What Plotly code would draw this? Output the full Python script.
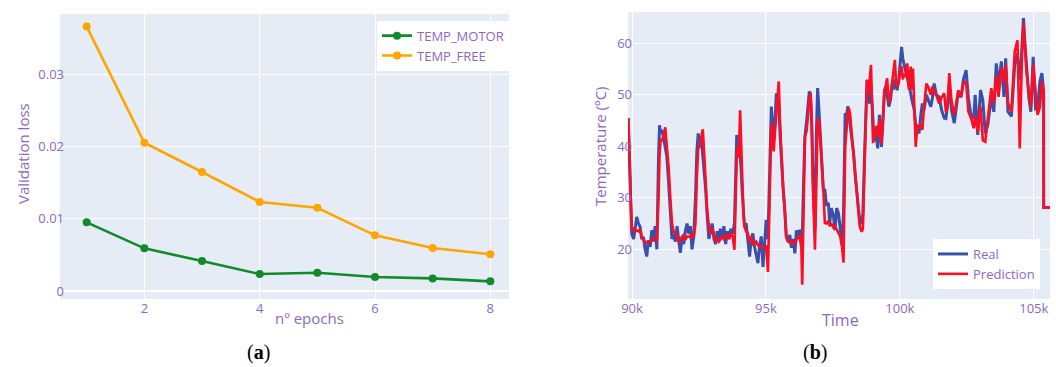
import plotly.graph_objects as go

# ---------------- data: panel (a) ----------------
epochs = [1, 2, 3, 4, 5, 6, 7, 8]
loss_motor = [0.0095, 0.0059, 0.00415, 0.00235, 0.00253, 0.00194, 0.00175, 0.00134]
loss_free = [0.03656, 0.0205, 0.01646, 0.01231, 0.01152, 0.0077, 0.00595, 0.00508]
epoch_ticks = [2, 4, 6, 8]
loss_ticks = [0, 0.01, 0.02, 0.03]
loss_tick_text = ["0", "0.01", "0.02", "0.03"]

# ---------------- data: panel (b) ----------------
time = [
    89860, 89920, 89990, 90060, 90120, 90175, 90240, 90300, 90360, 90425,
    90490, 90551, 90610, 90680, 90740, 90800, 90860, 90928, 90990, 91028,
    91070, 91117, 91180, 91241, 91300, 91366, 91430, 91492, 91550, 91617,
    91680, 91740, 91805, 91870, 91930, 91990, 92055, 92120, 92180, 92240,
    92305, 92369, 92420, 92470, 92520, 92580, 92643, 92700, 92745, 92800,
    92870, 92930, 92990, 93060, 93121, 93180, 93240, 93300, 93370, 93430,
    93497, 93560, 93620, 93690, 93760, 93824, 93870, 93910, 93948, 93990,
    94035, 94070, 94110, 94160, 94199, 94260, 94324, 94390, 94449, 94510,
    94575, 94640, 94700, 94760, 94825, 94890, 94951, 95010, 95076, 95140,
    95201, 95250, 95290, 95340, 95389, 95430, 95478, 95530, 95577, 95640,
    95703, 95760, 95828, 95890, 95953, 96020, 96079, 96140, 96204, 96260,
    96320, 96354, 96410, 96455, 96520, 96570, 96618, 96660, 96705, 96760,
    96830, 96880, 96930, 96990, 97043, 97100, 97144, 97200, 97260, 97332,
    97380, 97440, 97520, 97580, 97640, 97708, 97772, 97840, 97896, 97959,
    98010, 98058, 98100, 98147, 98210, 98272, 98330, 98397, 98450, 98500,
    98573, 98620, 98680, 98730, 98773, 98820, 98862, 98923, 98960, 98998,
    99040, 99088, 99130, 99174, 99238, 99280, 99313, 99370, 99426, 99480,
    99524, 99588, 99650, 99712, 99760, 99814, 99860, 99900, 99960, 100020,
    100064, 100110, 100152, 100210, 100276, 100340, 100404, 100450, 100490, 100540,
    100592, 100650, 100716, 100780, 100840, 100900, 100991, 101060, 101156, 101220,
    101280, 101360, 101468, 101560, 101656, 101719, 101780, 101844, 101930, 102032,
    102100, 102182, 102284, 102370, 102472, 102558, 102660, 102758, 102810, 102908,
    103010, 103096, 103187, 103284, 103412, 103508, 103600, 103686, 103788, 103886,
    103950, 104036, 104164, 104288, 104390, 104476, 104514, 104560, 104615, 104670,
    104728, 104814, 104890, 104977, 105066, 105142, 105228, 105303, 105367, 105370,
    105640,
]
temp_real = [
    45.5, 35.0, 23.0, 22.0, 24.5, 26.3, 25.0, 24.4, 22.0, 22.4,
    20.0, 18.6, 21.8, 20.5, 23.7, 21.5, 24.5, 20.0, 38.0, 44.1,
    42.5, 43.2, 41.5, 40.0, 38.0, 33.0, 28.0, 22.0, 23.0, 21.5,
    24.5, 22.0, 19.3, 22.5, 21.0, 23.5, 25.0, 23.0, 24.5, 20.0,
    22.5, 30.0, 39.0, 42.5, 41.0, 42.0, 38.5, 34.0, 32.0, 27.0,
    22.0, 23.5, 25.0, 22.0, 21.0, 23.5, 21.5, 24.0, 22.0, 24.5,
    21.0, 23.5, 22.0, 24.0, 23.0, 25.0, 33.0, 42.2, 40.0, 41.5,
    38.0, 36.0, 31.5, 27.0, 24.4, 25.1, 22.0, 18.6, 22.0, 23.1,
    20.5, 19.0, 17.3, 20.5, 22.5, 16.6, 21.0, 25.7, 22.0, 35.0,
    47.7, 44.0, 41.2, 45.0, 50.3, 49.0, 48.4, 42.0, 37.3, 32.0,
    27.6, 22.4, 21.5, 22.8, 20.3, 22.0, 19.2, 23.7, 22.0, 23.8,
    20.5, 22.0, 34.0, 41.9, 45.0, 49.0, 50.6, 50.3, 45.0, 33.0,
    24.0, 42.0, 51.3, 46.0, 40.0, 34.0, 31.5, 31.5, 28.5, 29.0,
    25.0, 28.0, 26.5, 23.7, 28.0, 27.0, 24.0, 21.0, 27.0, 46.4,
    46.0, 47.8, 46.0, 44.0, 41.0, 38.7, 34.5, 30.9, 27.5, 25.5,
    25.0, 27.0, 38.0, 48.0, 52.9, 50.5, 48.3, 52.0, 49.0, 44.0,
    41.0, 43.2, 41.0, 39.6, 46.1, 43.0, 39.9, 45.0, 50.9, 51.0,
    50.0, 47.7, 49.0, 52.0, 51.0, 53.0, 52.0, 50.9, 53.0, 57.0,
    59.3, 57.0, 56.1, 55.0, 53.5, 52.0, 50.3, 49.0, 48.3, 47.0,
    44.0, 43.2, 42.5, 46.0, 48.3, 47.0, 50.0, 49.0, 47.7, 49.5,
    52.2, 50.0, 49.6, 47.0, 45.5, 45.4, 48.0, 52.1, 47.0, 44.5,
    47.0, 50.5, 49.5, 52.9, 54.8, 49.4, 45.8, 45.4, 50.0, 42.2,
    50.9, 49.0, 42.5, 44.1, 49.6, 46.7, 56.1, 51.8, 56.5, 49.6,
    57.1, 46.7, 45.8, 55.8, 58.0, 53.0, 55.0, 60.0, 64.9, 60.0,
    55.8, 49.5, 46.7, 57.4, 47.3, 47.5, 52.6, 54.2, 50.6, 28.1,
    28.1,
]
temp_pred = [
    45.5, 33.0, 23.8, 24.0, 23.5, 23.7, 23.5, 23.8, 22.5, 21.8,
    21.5, 21.2, 21.3, 21.5, 21.8, 22.0, 22.0, 21.5, 30.0, 38.5,
    41.2, 41.2, 42.0, 43.7, 40.0, 36.0, 30.0, 25.1, 23.5, 23.1,
    22.5, 21.5, 21.8, 22.5, 22.8, 21.8, 22.5, 22.5, 22.3, 23.0,
    22.5, 25.0, 34.0, 39.5, 39.9, 41.5, 43.3, 38.0, 32.9, 28.0,
    24.4, 23.0, 24.0, 23.0, 21.5, 22.0, 21.5, 22.0, 22.5, 22.0,
    22.5, 22.8, 22.0, 23.0, 22.4, 19.9, 30.0, 38.0, 40.0, 37.8,
    47.0, 40.0, 32.2, 27.0, 24.4, 23.5, 23.1, 21.5, 22.4, 21.0,
    21.2, 21.5, 20.8, 20.6, 20.5, 20.3, 20.3, 20.5, 15.6, 30.0,
    44.5, 41.0, 39.0, 43.0, 46.5, 48.0, 52.6, 44.0, 37.3, 32.0,
    27.6, 22.4, 21.5, 21.3, 21.5, 21.0, 21.2, 21.8, 22.4, 22.5,
    21.0, 13.1, 30.0, 41.9, 43.0, 47.0, 49.0, 50.3, 46.5, 31.0,
    19.9, 32.0, 45.4, 44.5, 40.5, 35.0, 31.5, 25.1, 25.0, 25.5,
    24.5, 25.0, 24.2, 24.5, 23.8, 23.0, 22.5, 20.5, 17.4, 39.9,
    44.0, 46.5, 47.4, 46.0, 42.0, 38.7, 34.5, 30.9, 27.5, 24.5,
    23.4, 24.0, 36.0, 46.0, 52.9, 50.0, 52.0, 55.8, 48.3, 40.6,
    43.0, 41.9, 44.0, 42.0, 45.1, 41.0, 40.6, 47.0, 50.9, 52.0,
    53.2, 48.3, 50.0, 52.5, 54.5, 56.8, 52.0, 51.6, 52.5, 55.0,
    55.5, 53.0, 54.0, 53.5, 56.1, 51.0, 55.5, 51.0, 55.1, 46.0,
    39.9, 44.0, 43.8, 44.0, 43.2, 47.5, 52.2, 51.5, 50.0, 51.6,
    50.5, 50.0, 48.3, 49.5, 50.3, 46.6, 47.5, 54.2, 48.7, 46.1,
    48.0, 50.9, 49.6, 52.2, 52.6, 46.7, 45.4, 43.5, 46.0, 42.8,
    47.7, 41.2, 40.9, 45.8, 51.3, 48.4, 53.8, 49.6, 55.2, 52.6,
    55.8, 48.4, 46.7, 58.4, 60.6, 39.6, 51.3, 58.0, 63.9, 60.0,
    54.5, 50.6, 47.5, 55.8, 50.6, 46.1, 47.6, 52.6, 50.6, 28.1,
    28.1,
]
time_ticks = [90000, 95000, 100000, 105000]
time_tick_text = ["90k", "95k", "100k", "105k"]
temp_ticks = [20, 30, 40, 50, 60]

assert len(time) == len(temp_real) == len(temp_pred)

# ---------------- styling ----------------
W, H = 1056, 367
TXT = "#8c68bd"
FONT = "Open Sans"
BG = "#E5ECF6"

def px_x(p):
    return p / W

def px_y(p):
    return 1 - p / H

fig = go.Figure()

fig.add_trace(go.Scatter(
    x=epochs, y=loss_motor, name="TEMP_MOTOR", mode="lines+markers",
    line=dict(color="#128a2c", width=2.6), marker=dict(size=8, color="#128a2c"),
    xaxis="x", yaxis="y", legend="legend"))
fig.add_trace(go.Scatter(
    x=epochs, y=loss_free, name="TEMP_FREE", mode="lines+markers",
    line=dict(color="#FFA500", width=2.6), marker=dict(size=8, color="#FFA500"),
    xaxis="x", yaxis="y", legend="legend"))

fig.add_trace(go.Scatter(
    x=time, y=temp_real, name="Real", mode="lines",
    line=dict(color="#3a4fa8", width=3), xaxis="x2", yaxis="y2", legend="legend2"))
fig.add_trace(go.Scatter(
    x=time, y=temp_pred, name="Prediction", mode="lines",
    line=dict(color="#ff0d22", width=2.6), xaxis="x2", yaxis="y2", legend="legend2"))

axis_common = dict(
    showgrid=True, gridcolor="white", gridwidth=1, showline=False, ticks="",
    tickfont=dict(family=FONT, size=13, color=TXT), zeroline=False,
    automargin=False,
)

fig.update_layout(
    width=W, height=H,
    margin=dict(l=0, r=0, t=0, b=0, autoexpand=False),
    paper_bgcolor="white",
    plot_bgcolor=BG,
    font=dict(family=FONT, color=TXT, size=13),
    xaxis=dict(domain=[px_x(60), px_x(509)], anchor="y", range=[0.537, 8.324],
               tickvals=epoch_ticks, **axis_common),
    yaxis=dict(domain=[px_y(299), px_y(14)], anchor="x", range=[-0.0011, 0.0383],
               tickvals=loss_ticks, ticktext=loss_tick_text, ticklabelstandoff=-5,
               **{**axis_common, "zeroline": True, "zerolinecolor": "white", "zerolinewidth": 2}),
    xaxis2=dict(domain=[px_x(628), px_x(1050)], anchor="y2", range=[89850, 105605],
                tickvals=time_ticks, ticktext=time_tick_text, **axis_common),
    yaxis2=dict(domain=[px_y(299), px_y(12)], anchor="x2", range=[10.35, 66.08],
                tickvals=temp_ticks, ticklabelstandoff=-5, **axis_common),
    legend=dict(x=px_x(509), xanchor="right", y=px_y(20.7), yanchor="top",
                bgcolor="white", font=dict(family=FONT, size=13, color=TXT),
                tracegroupgap=0, itemwidth=30),
    legend2=dict(x=px_x(1040), xanchor="right", y=px_y(289), yanchor="bottom",
                 bgcolor="white", font=dict(family=FONT, size=13, color=TXT),
                 itemwidth=30),
    showlegend=True,
)

annotations = [
    dict(text="Validation loss", x=px_x(23), y=px_y(154), textangle=-90,
         font=dict(family=FONT, size=15, color=TXT)),
    dict(text="nº epochs", x=px_x(309), y=px_y(318),
         font=dict(family=FONT, size=15, color=TXT)),
    dict(text="Temperature (ºC)", x=px_x(600), y=px_y(146), textangle=-90,
         font=dict(family=FONT, size=15, color=TXT)),
    dict(text="Time", x=px_x(840), y=px_y(320),
         font=dict(family=FONT, size=16, color=TXT)),
    dict(text="(<b>a</b>)", x=px_x(258), y=px_y(352),
         font=dict(family="Liberation Serif", size=20, color="black")),
    dict(text="(<b>b</b>)", x=px_x(815), y=px_y(352),
         font=dict(family="Liberation Serif", size=20, color="black")),
]
for a in annotations:
    a.update(xref="paper", yref="paper", showarrow=False,
             xanchor="center", yanchor="middle")
fig.update_layout(annotations=annotations)

fig.write_html("out.html")
